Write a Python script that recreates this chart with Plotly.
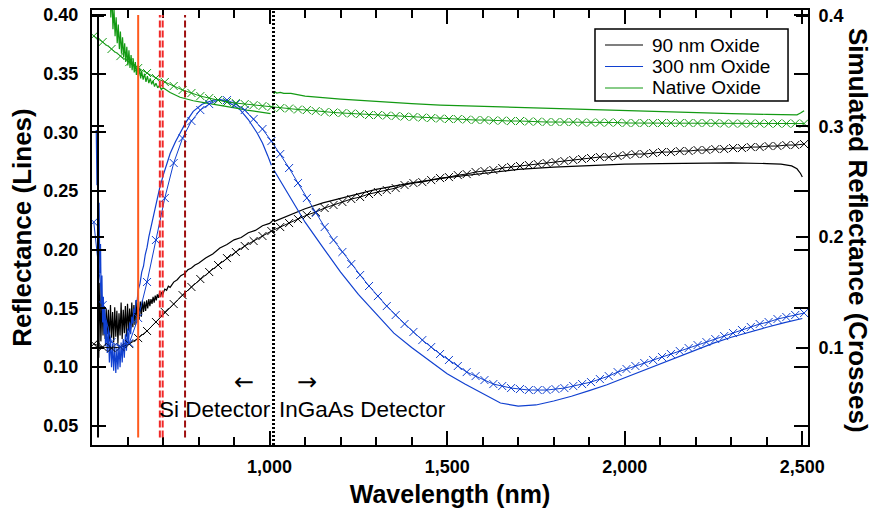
import plotly.graph_objects as go

FONT = "Liberation Sans, Arial, Helvetica, sans-serif"

# ---------------- simulated reflectance (crosses, right axis) ----------------
sim_nm = list(range(505, 2506, 25))
sim_90nm = [0.1035, 0.1008, 0.0999, 0.1008, 0.1035, 0.1089, 0.1153, 0.1234, 0.1324, 0.1396,
            0.1477, 0.1550, 0.1622, 0.1685, 0.1748, 0.1811, 0.1866, 0.1920, 0.1965, 0.2010,
            0.2055, 0.2091, 0.2127, 0.2163, 0.2199, 0.2227, 0.2263, 0.2290, 0.2317, 0.2344,
            0.2362, 0.2389, 0.2407, 0.2425, 0.2443, 0.2470, 0.2488, 0.2497, 0.2515, 0.2533,
            0.2542, 0.2560, 0.2569, 0.2588, 0.2597, 0.2606, 0.2624, 0.2633, 0.2642, 0.2651,
            0.2660, 0.2669, 0.2678, 0.2687, 0.2696, 0.2705, 0.2714, 0.2723, 0.2723, 0.2732,
            0.2741, 0.2750, 0.2750, 0.2759, 0.2768, 0.2768, 0.2777, 0.2777, 0.2786, 0.2786,
            0.2795, 0.2795, 0.2804, 0.2804, 0.2813, 0.2813, 0.2822, 0.2822, 0.2831, 0.2831,
            0.2840]
sim_300nm = [0.2136, 0.1387, 0.1053, 0.1008, 0.1044, 0.1270, 0.1595, 0.1974, 0.2353, 0.2669,
             0.2894, 0.3048, 0.3147, 0.3201, 0.3237, 0.3237, 0.3201, 0.3147, 0.3066, 0.2976,
             0.2867, 0.2750, 0.2624, 0.2488, 0.2353, 0.2218, 0.2091, 0.1974, 0.1866, 0.1757,
             0.1658, 0.1559, 0.1468, 0.1378, 0.1297, 0.1216, 0.1144, 0.1071, 0.1008, 0.0945,
             0.0891, 0.0837, 0.0782, 0.0746, 0.0710, 0.0674, 0.0656, 0.0638, 0.0629, 0.0620,
             0.0620, 0.0620, 0.0629, 0.0638, 0.0656, 0.0674, 0.0692, 0.0719, 0.0746, 0.0782,
             0.0810, 0.0837, 0.0864, 0.0891, 0.0918, 0.0945, 0.0972, 0.0999, 0.1026, 0.1053,
             0.1080, 0.1107, 0.1134, 0.1162, 0.1189, 0.1216, 0.1234, 0.1261, 0.1279, 0.1297,
             0.1315]
sim_native = [0.3815, 0.3761, 0.3698, 0.3634, 0.3580, 0.3526, 0.3481, 0.3436, 0.3400, 0.3364,
              0.3328, 0.3301, 0.3273, 0.3255, 0.3237, 0.3219, 0.3210, 0.3201, 0.3192, 0.3183,
              0.3174, 0.3165, 0.3161, 0.3152, 0.3147, 0.3138, 0.3129, 0.3125, 0.3120, 0.3116,
              0.3111, 0.3102, 0.3102, 0.3097, 0.3093, 0.3088, 0.3084, 0.3079, 0.3075, 0.3070,
              0.3066, 0.3066, 0.3061, 0.3057, 0.3057, 0.3052, 0.3052, 0.3048, 0.3048, 0.3043,
              0.3043, 0.3039, 0.3039, 0.3039, 0.3039, 0.3034, 0.3034, 0.3034, 0.3034, 0.3034,
              0.3030, 0.3030, 0.3030, 0.3030, 0.3030, 0.3030, 0.3030, 0.3030, 0.3030, 0.3030,
              0.3030, 0.3025, 0.3025, 0.3025, 0.3025, 0.3025, 0.3025, 0.3025, 0.3025, 0.3025,
              0.3025]

# ---------------- measured reflectance (lines, left axis) ----------------
# Si detector segment
nm_90_si = [516, 519, 522, 525, 528, 531, 534, 537, 540, 543, 546, 549, 552, 555, 558, 561,
            564, 567, 570, 573, 576, 579, 582, 585, 588, 591, 594, 597, 600, 603, 606, 609,
            612, 615, 618, 621, 624, 627, 630, 633, 636, 639, 642, 645, 648, 651, 654, 657,
            660, 663, 666, 669, 672, 675, 678, 681, 684, 687, 690, 693, 696, 699,
            705, 710, 715, 720, 730, 740, 750, 760, 770, 780, 790, 800, 820, 840, 860, 880,
            900, 920, 940, 960, 980, 1000, 1008]
r_90_si = [0.190, 0.108, 0.172, 0.122, 0.158, 0.127, 0.152, 0.124, 0.150, 0.128, 0.149, 0.122,
           0.153, 0.125, 0.147, 0.121, 0.151, 0.126, 0.148, 0.120, 0.146, 0.127, 0.155, 0.124,
           0.149, 0.129, 0.152, 0.126, 0.154, 0.131, 0.150, 0.133, 0.155, 0.134, 0.153, 0.136,
           0.157, 0.138, 0.155, 0.141, 0.156, 0.143, 0.157, 0.147, 0.156, 0.148, 0.157, 0.150,
           0.158, 0.152, 0.158, 0.154, 0.160, 0.155, 0.161, 0.157, 0.162, 0.159, 0.163, 0.160,
           0.164, 0.162,
           0.1665, 0.1655, 0.169, 0.168, 0.1725, 0.1745, 0.178, 0.1795, 0.183, 0.1845, 0.187,
           0.1885, 0.193, 0.1965, 0.2015, 0.2045, 0.2085, 0.2105, 0.2145, 0.2165, 0.2205,
           0.2225, 0.2245]
nm_90_ig = [1012, 1050, 1100, 1150, 1200, 1250, 1300, 1400, 1500, 1600, 1700, 1800, 1900,
            2000, 2100, 2200, 2300, 2400, 2440, 2470, 2485, 2495, 2500]
r_90_ig = [0.224, 0.229, 0.235, 0.240, 0.244, 0.248, 0.2515, 0.257, 0.2615, 0.265, 0.2685,
           0.2705, 0.272, 0.273, 0.2735, 0.274, 0.274, 0.2735, 0.273, 0.2715, 0.269, 0.265, 0.262]

nm_300_si = [512, 514, 516, 518, 520, 522, 524, 526, 528, 530, 532, 534, 536, 538, 540, 543,
             546, 549, 552, 555, 558, 561, 564, 567, 570, 573, 576, 579, 582, 585, 588, 591,
             594, 597, 600, 603, 606, 609, 612, 615, 618, 621, 624, 627, 630, 635, 640, 645,
             650, 655, 660, 670, 680, 690, 700, 711, 720, 735, 748, 765, 785, 810, 842, 860,
             880, 900, 918, 940, 965, 980, 995, 1005]
r_300_si = [0.302, 0.255, 0.280, 0.215, 0.240, 0.180, 0.205, 0.155, 0.178, 0.138, 0.160, 0.128,
            0.150, 0.118, 0.140, 0.112, 0.132, 0.104, 0.125, 0.100, 0.120, 0.097, 0.118, 0.095,
            0.116, 0.098, 0.119, 0.100, 0.121, 0.104, 0.124, 0.108, 0.128, 0.114, 0.133, 0.120,
            0.138, 0.128, 0.143, 0.137, 0.150, 0.146, 0.157, 0.156, 0.166, 0.171, 0.181, 0.186,
            0.196, 0.202, 0.211, 0.225, 0.239, 0.252, 0.263, 0.274, 0.282, 0.292, 0.2995, 0.309,
            0.318, 0.324, 0.3276, 0.328, 0.326, 0.323, 0.319, 0.311, 0.2995, 0.291, 0.280, 0.272]
nm_300_ig = [1012, 1050, 1100, 1150, 1200, 1250, 1300, 1350, 1400, 1450, 1500, 1550, 1600,
             1650, 1700, 1750, 1800, 1850, 1900, 1950, 2000, 2050, 2100, 2150, 2200, 2250,
             2300, 2350, 2400, 2450, 2500]
r_300_ig = [0.268, 0.249, 0.2235, 0.2021, 0.181, 0.162, 0.1457, 0.129, 0.1167, 0.1055, 0.0944,
            0.0856, 0.0775, 0.0695, 0.0668, 0.0678, 0.0712, 0.0752, 0.0800, 0.085, 0.091, 0.097,
            0.103, 0.109, 0.115, 0.1205, 0.1255, 0.130, 0.134, 0.138, 0.1415]

nm_nat_si = [544, 547, 550, 553, 556, 559, 562, 565, 568, 571, 574, 577, 580, 583, 586, 589,
             592, 595, 598, 601, 604, 607, 610, 613, 616, 619, 622, 625, 628, 631, 634, 637,
             640, 644, 648, 652, 656, 660, 664, 668, 672, 676, 680, 685, 690, 695, 700, 720,
             748, 785, 823, 850, 880, 910, 936, 965, 995, 1003]
r_nat_si = [0.440, 0.410, 0.432, 0.398, 0.418, 0.388, 0.405, 0.382, 0.398, 0.376, 0.392, 0.371,
            0.386, 0.367, 0.381, 0.364, 0.376, 0.360, 0.373, 0.357, 0.370, 0.355, 0.366, 0.353,
            0.363, 0.351, 0.360, 0.349, 0.357, 0.348, 0.355, 0.346, 0.352, 0.345, 0.350, 0.343,
            0.348, 0.342, 0.346, 0.341, 0.344, 0.339, 0.342, 0.338, 0.340, 0.3365, 0.338, 0.334,
            0.330, 0.327, 0.325, 0.3237, 0.3225, 0.3205, 0.319, 0.3178, 0.3165, 0.316]
nm_nat_ig = [1010, 1013, 1016, 1020, 1030, 1040, 1060, 1100, 1200, 1300, 1400, 1480, 1600,
             1760, 1900, 2000, 2100, 2216, 2300, 2400, 2470, 2485, 2495, 2505]
r_nat_ig = [0.3352, 0.3330, 0.3346, 0.3336, 0.3341, 0.3333, 0.3332, 0.3310, 0.3284, 0.3262,
            0.3245, 0.3233, 0.3222, 0.3208, 0.3193, 0.3183, 0.3176, 0.3168, 0.3161, 0.3154,
            0.3149, 0.3150, 0.3165, 0.3185]

# filter / detector reference wavelengths (nm)
orange_line = [630]
red_lines = [691, 699]
darkred_lines = [762]
detector_switch = [1011]

series_names = ["90 nm Oxide", "300 nm Oxide", "Native Oxide"]
x_tickvals = [1000, 1500, 2000, 2500]
x_ticktext = ["1,000", "1,500", "2,000", "2,500"]
yl_tickvals = [0.05, 0.10, 0.15, 0.20, 0.25, 0.30, 0.35, 0.40]
yr_tickvals = [0.1, 0.2, 0.3, 0.4]

BLACK = "#000000"
BLUE = "#1040d0"
GREEN = "#139a13"
colors = [BLACK, BLUE, GREEN]

fig = go.Figure()

meas = [(nm_90_si, r_90_si, nm_90_ig, r_90_ig),
        (nm_300_si, r_300_si, nm_300_ig, r_300_ig),
        (nm_nat_si, r_nat_si, nm_nat_ig, r_nat_ig)]
sims = [sim_90nm, sim_300nm, sim_native]

for sim, col, name in zip(sims, colors, series_names):
    fig.add_trace(go.Scatter(x=sim_nm, y=sim, mode="lines+markers", yaxis="y2",
                             line=dict(color=col, width=1),
                             marker=dict(symbol="x-thin", size=8, color=col,
                                         line=dict(width=1, color=col)),
                             name=name + " (simulated)", showlegend=False))
for (a, b, c, d), col, name in zip(meas, colors, series_names):
    fig.add_trace(go.Scatter(x=a + [None] + c, y=b + [None] + d, mode="lines", yaxis="y",
                             line=dict(color=col, width=1.2), connectgaps=False,
                             name=name, showlegend=False))

shapes = []
# inner left axis line
shapes.append(dict(type="line", xref="paper", yref="y", x0=0.0084, x1=0.0084, y0=0.04, y1=0.40,
                   line=dict(color="black", width=2)))
for v in orange_line:
    shapes.append(dict(type="line", xref="x", yref="y", x0=v, x1=v, y0=0.04, y1=0.40,
                       line=dict(color="#ff5a1e", width=2)))
for v in red_lines:
    shapes.append(dict(type="line", xref="x", yref="y", x0=v, x1=v, y0=0.04, y1=0.40,
                       line=dict(color="#f02828", width=2, dash="7px,3px")))
for v in darkred_lines:
    shapes.append(dict(type="line", xref="x", yref="y", x0=v, x1=v, y0=0.04, y1=0.40,
                       line=dict(color="#a01010", width=2, dash="7px,3px")))
for v in detector_switch:
    shapes.append(dict(type="line", xref="x", yref="paper", x0=v, x1=v, y0=0, y1=1,
                       line=dict(color="black", width=3, dash="2px,2px")))

# legend box (manual)
lg_x0, lg_x1, lg_y0, lg_y1 = 0.7025, 0.9721, 0.7908, 0.9563
shapes.append(dict(type="rect", xref="paper", yref="paper", x0=lg_x0, x1=lg_x1, y0=lg_y0, y1=lg_y1,
                   line=dict(color="black", width=1.5), fillcolor="white", layer="above"))
rows = [0.9195, 0.8701, 0.8207]
annotations = []
for ry, col, name in zip(rows, colors, series_names):
    shapes.append(dict(type="line", xref="paper", yref="paper", x0=0.7165, x1=0.7696, y0=ry, y1=ry,
                       line=dict(color=col, width=1.2)))
    annotations.append(dict(text=name, xref="paper", yref="paper", x=0.7795, y=ry,
                            xanchor="left", yanchor="middle", showarrow=False,
                            font=dict(family=FONT, size=19, color="black")))

ARROW_FONT = "DejaVu Sans, Liberation Sans, sans-serif"
annotations += [
    dict(text="Si Detector", xref="x", yref="y", x=1009, y=0.0643, xanchor="right",
         yanchor="middle", showarrow=False, font=dict(family=FONT, size=22.5, color="black")),
    dict(text="InGaAs Detector", xref="x", yref="y", x=1020, y=0.0643, xanchor="left",
         yanchor="middle", showarrow=False, font=dict(family=FONT, size=22.5, color="black")),
    dict(text="←", xref="x", yref="y", x=928, y=0.0873, showarrow=False,
         font=dict(family=ARROW_FONT, size=24, color="black")),
    dict(text="→", xref="x", yref="y", x=1105, y=0.0873, showarrow=False,
         font=dict(family=ARROW_FONT, size=24, color="black")),
    dict(text="Simulated Reflectance (Crosses)", xref="paper", yref="paper", x=1.0698, y=0.492,
         textangle=90, showarrow=False, xanchor="center", yanchor="middle",
         font=dict(family=FONT, size=26, color="black", weight="bold")),
]

tickfont = dict(family=FONT, size=18, color="black", weight="bold")

fig.update_layout(
    width=878, height=513,
    margin=dict(l=92, r=70, t=10, b=68, autoexpand=False),
    paper_bgcolor="white", plot_bgcolor="white",
    showlegend=False,
    xaxis=dict(range=[500, 2516], tickvals=x_tickvals, ticktext=x_ticktext,
               ticks="inside", ticklen=14, tickwidth=2, tickcolor="black",
               minor=dict(dtick=100, tick0=0, ticks="inside", ticklen=8, tickwidth=2,
                          tickcolor="black", showgrid=False),
               showline=True, linewidth=2, linecolor="black", mirror="ticks",
               showgrid=False, zeroline=False, tickfont=tickfont, ticklabelstandoff=4,
               title=dict(text="Wavelength (nm)", standoff=10,
                          font=dict(family=FONT, size=25, color="black", weight="bold"))),
    yaxis=dict(range=[0.0337, 0.4043], tickvals=yl_tickvals, tickformat=".2f",
               ticks="inside", ticklen=14, tickwidth=2, tickcolor="black",
               showline=True, linewidth=2, linecolor="black", mirror="ticks",
               showgrid=False, zeroline=False, tickfont=tickfont, ticklabelstandoff=8,
               title=dict(text="Reflectance (Lines)", standoff=4,
                          font=dict(family=FONT, size=26, color="black", weight="bold"))),
    yaxis2=dict(range=[0.0124, 0.405], tickvals=yr_tickvals, tickformat=".1f",
                overlaying="y", side="right", anchor="x",
                ticks="inside", ticklen=12, tickwidth=2, tickcolor="black",
                showline=True, linewidth=2, linecolor="black", mirror="ticks",
                showgrid=False, zeroline=False, tickfont=tickfont, ticklabelstandoff=5),
    shapes=shapes,
    annotations=annotations,
)

fig.write_html("out.html")
